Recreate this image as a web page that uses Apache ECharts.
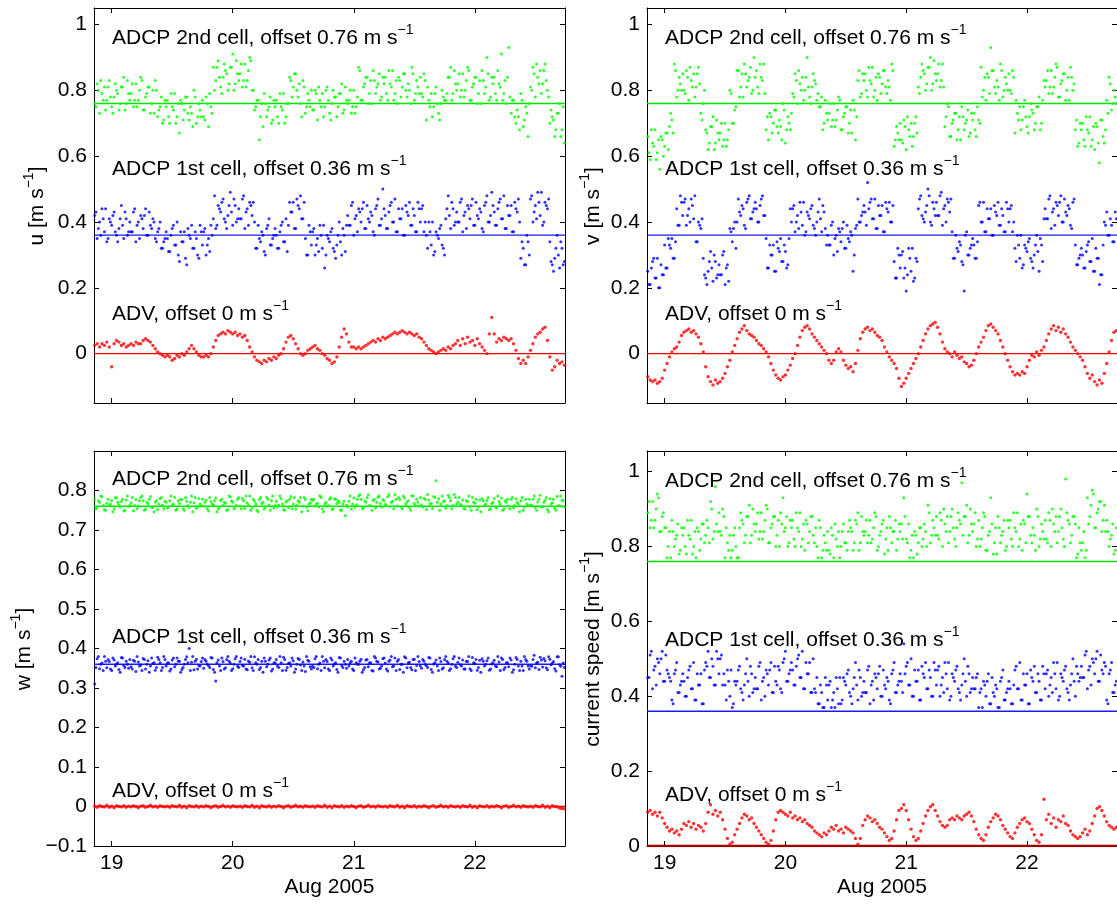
<!DOCTYPE html>
<html><head><meta charset="utf-8">
<script src="https://cdn.jsdelivr.net/npm/echarts@6/dist/echarts.min.js"></script>
<style>html,body{margin:0;padding:0;background:#fff}#c{width:1117px;height:906px}</style>
</head><body><div id="c"></div>
<script>
// sampling grids: day of Aug 2005. Set A starts at T0A, ADCP set B at T0B, one sample every DT days
const T0A = 18.86, T0B = 18.87, DT = 0.02;
const xTicks = [19, 20, 21, 22];
const xName = 'Aug 2005';
const seriesNames = ['ADCP 2nd cell, offset 0.76 m s', 'ADCP 1st cell, offset 0.36 m s', 'ADV, offset 0 m s'];
const offsets = [0.76, 0.36, 0];

// ---- u (east) ----
const u_c2 = [
.76,.82,.73,.79,.81,.77,.83,.75,.78,.80,.74,.81,.84,.76,.79,
.79,.75,.82,.77,.84,.74,.78,.81,.73,.80,.83,.72,.75,.70,.77,
.77,.70,.75,.79,.72,.67,.76,.74,.78,.71,.73,.80,.70,.76,.72,
.72,.78,.69,.75,.87,.83,.89,.81,.84,.86,.80,.87,.91,.82,.85,
.85,.81,.88,.83,.90,.80,.74,.77,.65,.76,.79,.72,.75,.70,.77,
.77,.70,.75,.79,.72,.76,.83,.81,.85,.78,.76,.83,.73,.79,.75,
.74,.80,.71,.77,.79,.75,.81,.73,.76,.78,.72,.79,.82,.74,.77,
.77,.73,.80,.75,.87,.77,.81,.84,.76,.83,.86,.79,.82,.77,.84,
.84,.77,.82,.86,.79,.76,.83,.81,.85,.78,.80,.87,.77,.83,.79,
.79,.85,.71,.77,.79,.75,.81,.73,.76,.78,.77,.84,.87,.79,.82,
.82,.78,.85,.80,.87,.77,.81,.84,.76,.83,.86,.79,.90,.77,.84,
.84,.77,.82,.91,.79,.76,.93,.73,.77,.70,.72,.79,.69,.75,.66,
.81,.87,.78,.84,.86,.82,.88,.80,.70,.72,.66,.73,.76,.68,.64];
const u_c2B = [
.75,.80,.83,.77,.74,.81,.78,.73,.82,.79,.76,.81,.74,.83,.77,
.82,.77,.75,.80,.83,.74,.79,.81,.76,.73,.80,.74,.78,.71,.75,
.72,.79,.74,.70,.76,.77,.71,.78,.73,.75,.69,.78,.72,.74,.77,
.71,.76,.79,.73,.80,.87,.84,.79,.88,.85,.82,.87,.80,.89,.83,
.88,.83,.81,.86,.89,.80,.75,.77,.72,.69,.76,.74,.78,.71,.75,
.72,.79,.74,.70,.76,.84,.78,.85,.80,.82,.72,.81,.75,.77,.80,
.74,.79,.81,.75,.72,.80,.77,.71,.80,.78,.75,.79,.73,.81,.76,
.80,.75,.73,.78,.86,.77,.82,.84,.79,.76,.83,.81,.85,.78,.82,
.79,.86,.81,.77,.83,.84,.78,.85,.80,.82,.76,.85,.79,.81,.84,
.78,.83,.81,.75,.72,.79,.76,.71,.80,.77,.79,.84,.77,.86,.80,
.85,.80,.78,.83,.86,.77,.82,.84,.79,.76,.83,.81,.85,.78,.82,
.79,.86,.81,.77,.83,.84,.78,.77,.72,.74,.68,.77,.71,.73,.76,
.80,.85,.88,.82,.79,.86,.83,.78,.74,.71,.68,.73,.66,.75,.69];
const u_c1 = [
.42,.35,.40,.44,.37,.34,.41,.39,.43,.36,.38,.45,.35,.41,.37,
.37,.43,.34,.40,.42,.38,.44,.36,.39,.41,.35,.37,.40,.32,.35,
.35,.31,.38,.33,.40,.28,.34,.37,.27,.36,.39,.32,.35,.29,.37,
.37,.30,.35,.39,.41,.38,.45,.43,.47,.40,.42,.49,.39,.45,.41,
.41,.47,.38,.44,.46,.42,.40,.32,.35,.37,.31,.38,.41,.33,.36,
.36,.32,.39,.34,.41,.39,.43,.46,.38,.45,.48,.41,.35,.30,.37,
.37,.30,.35,.39,.32,.26,.36,.34,.38,.31,.33,.40,.30,.36,.39,
.39,.45,.36,.42,.44,.40,.46,.38,.41,.43,.37,.44,.47,.39,.50,
.42,.38,.45,.40,.47,.37,.41,.44,.36,.43,.46,.39,.42,.37,.44,
.44,.37,.36,.40,.33,.30,.37,.35,.39,.32,.41,.48,.38,.44,.40,
.40,.46,.37,.43,.45,.41,.47,.39,.42,.44,.38,.45,.48,.40,.49,
.43,.39,.46,.41,.48,.38,.42,.45,.37,.44,.47,.29,.32,.27,.34,
.47,.40,.45,.49,.42,.39,.46,.44,.34,.27,.29,.36,.26,.32,.28];
const u_c1B = [
.43,.38,.36,.41,.44,.35,.40,.42,.37,.34,.41,.39,.43,.36,.40,
.37,.44,.39,.35,.41,.42,.36,.43,.38,.40,.34,.38,.32,.34,.37,
.31,.36,.39,.33,.30,.37,.34,.29,.38,.35,.32,.37,.30,.39,.33,
.38,.33,.31,.36,.48,.39,.44,.46,.41,.38,.45,.43,.47,.40,.44,
.41,.48,.43,.39,.45,.46,.32,.39,.34,.36,.30,.39,.33,.35,.38,
.32,.37,.40,.34,.31,.46,.43,.38,.47,.44,.41,.46,.30,.39,.33,
.38,.33,.31,.36,.39,.30,.35,.37,.32,.29,.36,.34,.38,.31,.42,
.39,.46,.41,.37,.43,.44,.38,.45,.40,.42,.36,.45,.39,.41,.44,
.38,.43,.46,.40,.37,.44,.41,.36,.45,.42,.39,.44,.37,.46,.40,
.45,.40,.32,.37,.40,.31,.36,.38,.33,.30,.44,.42,.46,.39,.43,
.40,.47,.42,.38,.44,.45,.39,.46,.41,.43,.37,.46,.40,.42,.45,
.39,.44,.47,.41,.38,.45,.42,.37,.46,.43,.40,.34,.27,.36,.30,
.48,.43,.41,.46,.49,.40,.45,.47,.28,.25,.32,.30,.34,.27,.31];
const u_adv = [
.025,.03,.02,.03,.025,.035,.02,-.04,.03,.04,.035,.025,.03,.02,.025,
.03,.025,.035,.03,.03,.04,.045,.04,.035,.025,.015,.005,0,-.005,-.01,
-.005,-.01,-.02,-.015,-.005,-.01,0,-.005,.005,.015,.025,.015,.005,-.005,-.01,
-.01,-.005,-.01,0,.02,.04,.055,.06,.065,.06,.07,.065,.06,.065,.055,
.06,.05,.055,.04,.02,.005,-.01,-.02,-.025,-.03,-.02,-.025,-.015,-.02,-.01,
-.015,-.005,0,.015,.035,.05,.055,.045,.03,.015,0,-.005,0,.01,.015,
.02,.025,.015,.01,0,-.005,-.015,-.02,-.03,-.025,-.01,.02,.05,.075,.06,
.035,.02,.02,.015,.02,.015,.02,.025,.03,.035,.04,.035,.045,.04,.05,
.045,.05,.055,.06,.065,.06,.065,.07,.065,.06,.065,.06,.055,.06,.05,
.045,.035,.025,.015,.01,.005,0,.005,.01,.015,.01,.02,.015,.025,.03,
.04,.025,.045,.03,.05,.035,.04,.025,.045,.03,.02,.01,0,.06,.11,
.06,.035,.045,.04,.05,.045,.04,.045,.03,.01,-.015,-.03,-.02,-.03,-.01,
.01,.03,.05,.06,.065,.075,.08,.04,-.01,-.05,-.04,-.02,-.03,-.025,-.035];

// ---- v (north) ----
const v_c2 = [
.66,.59,.64,.68,.61,.56,.65,.63,.67,.69,.71,.88,.78,.84,.80,
.80,.86,.77,.83,.85,.81,.87,.73,.76,.68,.62,.69,.72,.64,.67,
.67,.63,.70,.65,.80,.70,.74,.86,.78,.85,.88,.81,.84,.79,.90,
.86,.79,.84,.88,.68,.65,.72,.70,.74,.67,.69,.76,.64,.72,.68,
.79,.85,.76,.82,.84,.80,.90,.78,.81,.83,.77,.75,.78,.70,.73,
.73,.69,.76,.71,.78,.68,.72,.75,.67,.74,.77,.65,.83,.78,.85,
.85,.78,.83,.87,.80,.77,.84,.82,.86,.79,.81,.88,.63,.69,.65,
.65,.71,.62,.68,.70,.66,.72,.81,.84,.86,.80,.87,.90,.82,.85,
.85,.81,.88,.69,.76,.66,.70,.73,.65,.72,.75,.68,.71,.66,.73,
.73,.66,.71,.87,.80,.77,.84,.93,.86,.79,.81,.88,.78,.84,.80,
.80,.86,.67,.73,.75,.71,.77,.69,.72,.74,.68,.75,.78,.70,.83,
.83,.79,.86,.81,.88,.78,.82,.85,.77,.84,.87,.80,.68,.63,.70,
.70,.63,.68,.72,.65,.62,.69,.58,.71,.64,.77,.84,.74,.80,.76];
const v_c2B = [
.61,.68,.63,.59,.65,.66,.60,.67,.62,.73,.67,.86,.80,.82,.85,
.79,.84,.87,.81,.78,.85,.82,.71,.80,.67,.64,.69,.62,.71,.65,
.70,.65,.63,.68,.79,.70,.75,.86,.81,.78,.85,.83,.87,.80,.84,
.81,.88,.83,.79,.72,.73,.67,.74,.69,.71,.65,.74,.68,.70,.73,
.78,.83,.86,.80,.77,.84,.81,.76,.85,.82,.79,.75,.68,.77,.71,
.76,.71,.69,.74,.77,.68,.73,.75,.70,.67,.74,.72,.86,.79,.83,
.80,.87,.82,.78,.84,.85,.79,.86,.81,.83,.77,.86,.65,.67,.70,
.64,.69,.72,.66,.63,.70,.67,.79,.88,.85,.82,.87,.80,.89,.83,
.88,.83,.81,.72,.75,.66,.71,.73,.68,.65,.72,.70,.74,.67,.71,
.68,.75,.70,.78,.84,.85,.79,.86,.81,.83,.77,.86,.80,.82,.85,
.79,.84,.77,.71,.68,.75,.72,.67,.76,.73,.70,.75,.68,.77,.81,
.86,.81,.79,.84,.87,.78,.83,.85,.80,.77,.84,.82,.71,.64,.68,
.65,.72,.67,.63,.69,.70,.64,.71,.66,.68,.73,.82,.76,.78,.81];
const v_c1 = [
.25,.21,.28,.23,.29,.20,.24,.33,.26,.33,.35,.29,.44,.39,.46,
.46,.39,.44,.47,.41,.34,.40,.38,.29,.23,.25,.31,.22,.28,.24,
.24,.30,.21,.27,.38,.34,.40,.40,.43,.45,.39,.46,.48,.41,.44,
.44,.40,.47,.42,.35,.26,.30,.33,.25,.32,.35,.28,.31,.27,.44,
.44,.37,.42,.46,.39,.36,.43,.41,.45,.38,.40,.47,.37,.43,.33,
.33,.39,.30,.36,.38,.34,.40,.32,.35,.37,.25,.38,.47,.40,.43,
.43,.52,.46,.41,.47,.38,.42,.45,.37,.44,.46,.40,.28,.23,.30,
.30,.23,.19,.32,.25,.22,.29,.44,.48,.41,.43,.50,.40,.46,.42,
.42,.48,.39,.45,.47,.43,.37,.29,.32,.34,.28,.19,.37,.30,.33,
.33,.29,.45,.40,.46,.37,.41,.44,.36,.43,.46,.39,.42,.37,.44,
.44,.37,.32,.36,.29,.26,.33,.31,.35,.28,.30,.36,.25,.33,.41,
.41,.47,.38,.44,.46,.42,.48,.40,.43,.45,.39,.46,.33,.27,.30,
.30,.26,.33,.28,.35,.25,.29,.21,.24,.40,.43,.36,.39,.34,.41];
const v_c1B = [
.21,.26,.29,.23,.20,.27,.24,.26,.35,.32,.29,.34,.39,.48,.42,
.47,.42,.40,.45,.48,.34,.39,.41,.24,.21,.28,.26,.30,.23,.27,
.24,.31,.26,.22,.37,.38,.32,.47,.42,.44,.38,.47,.41,.43,.46,
.40,.45,.48,.42,.26,.33,.30,.25,.34,.31,.28,.33,.26,.35,.40,
.45,.40,.38,.43,.46,.37,.42,.44,.39,.36,.43,.41,.45,.38,.36,
.33,.40,.35,.31,.37,.38,.32,.39,.34,.36,.30,.39,.40,.42,.45,
.39,.44,.47,.41,.38,.45,.42,.37,.46,.43,.40,.45,.23,.32,.26,
.31,.26,.24,.29,.32,.23,.28,.47,.42,.40,.45,.48,.39,.44,.46,
.42,.49,.44,.40,.46,.47,.29,.36,.31,.33,.27,.36,.30,.32,.35,
.29,.34,.46,.40,.37,.44,.41,.36,.45,.42,.39,.44,.37,.46,.40,
.45,.40,.28,.33,.36,.27,.32,.34,.29,.26,.33,.31,.35,.28,.44,
.41,.48,.43,.39,.45,.46,.40,.47,.42,.44,.38,.47,.27,.29,.32,
.26,.31,.34,.28,.25,.32,.29,.24,.33,.39,.36,.41,.34,.43,.37];
const v_adv = [
-.07,-.08,-.085,-.08,-.09,-.085,-.075,-.05,-.03,-.01,.005,.015,.02,.035,.055,
.065,.07,.075,.065,.07,.06,.05,.03,.005,-.04,-.07,-.085,-.095,-.08,-.09,
-.085,-.075,-.06,-.04,-.02,.005,.025,.045,.065,.075,.085,.07,.06,.055,.05,
.04,.03,.025,.015,.005,-.01,-.03,-.05,-.065,-.075,-.08,-.07,-.065,-.05,-.035,
-.015,0,.025,.05,.07,.08,.085,.075,.06,.05,.04,.03,.02,.01,0,
-.02,-.03,-.02,.005,.015,.005,-.02,-.035,-.045,-.04,-.055,-.03,.01,.045,.065,
.075,.08,.07,.075,.065,.055,.05,.04,.02,.005,-.01,-.02,-.03,-.045,-.075,
-.1,-.09,-.075,-.06,-.045,-.03,-.015,0,.02,.04,.06,.075,.085,.09,.095,
.08,.06,.035,.015,.005,0,-.01,.005,-.005,-.015,-.01,-.025,-.03,-.04,-.035,
-.02,0,.02,.035,.05,.07,.085,.09,.08,.07,.06,.04,.02,0,-.02,
-.04,-.055,-.065,-.06,-.065,-.055,-.06,-.04,-.02,-.005,-.01,.005,-.005,.01,.02,
.04,.06,.075,.085,.07,.08,.065,.075,.06,.05,.035,.02,.01,0,-.01,
-.02,-.04,-.06,-.075,-.065,-.085,-.095,-.08,-.09,-.06,-.03,.005,.04,.065,.07];

// ---- w (vertical) ----
const w_c2 = [
.778,.758,.770,.784,.751,.768,.762,.775,.754,.781,.764,.772,.748,.776,.760,
.769,.749,.777,.760,.782,.774,.753,.766,.785,.757,.771,.752,.779,.763,.773,
.756,.774,.763,.783,.753,.767,.777,.750,.773,.757,.786,.769,.755,.780,.761,
.760,.776,.748,.772,.764,.781,.754,.775,.762,.768,.751,.784,.770,.758,.778,
.761,.780,.755,.769,.786,.757,.773,.750,.777,.767,.753,.783,.763,.774,.756,
.773,.763,.779,.752,.771,.757,.785,.766,.753,.774,.782,.760,.777,.749,.769,
.775,.761,.768,.787,.753,.766,.760,.778,.752,.779,.767,.770,.750,.773,.763,
.773,.753,.781,.764,.786,.778,.757,.770,.789,.761,.775,.756,.783,.767,.777,
.765,.784,.759,.773,.790,.761,.777,.754,.781,.771,.757,.787,.767,.778,.760,
.764,.780,.752,.776,.768,.785,.825,.779,.766,.772,.755,.788,.774,.762,.782,
.771,.765,.776,.754,.773,.759,.783,.768,.751,.776,.780,.762,.775,.751,.767,
.780,.756,.772,.781,.753,.770,.760,.777,.756,.779,.766,.774,.750,.778,.762,
.763,.778,.757,.771,.788,.759,.775,.752,.779,.769,.755,.785,.761,.776,.758];
const w_c2B = [
.754,.774,.786,.762,.750,.778,.766,.746,.782,.770,.758,.778,.750,.786,.762,
.782,.762,.754,.774,.786,.750,.770,.778,.758,.746,.774,.766,.782,.754,.770,
.758,.786,.766,.750,.774,.778,.754,.782,.762,.770,.746,.782,.758,.766,.778,
.770,.754,.782,.766,.774,.746,.758,.778,.770,.750,.786,.774,.754,.762,.782,
.754,.774,.786,.762,.750,.778,.766,.746,.782,.770,.758,.778,.750,.786,.762,
.758,.786,.766,.750,.774,.778,.754,.782,.762,.770,.746,.782,.758,.766,.778,
.778,.766,.758,.782,.746,.770,.762,.782,.754,.778,.774,.750,.766,.737,.758,
.786,.766,.758,.778,.790,.754,.774,.782,.762,.750,.778,.770,.786,.758,.774,
.762,.790,.770,.754,.778,.782,.758,.786,.766,.774,.750,.786,.762,.770,.782,
.758,.778,.790,.766,.754,.782,.770,.750,.786,.774,.762,.782,.754,.790,.766,
.782,.762,.754,.774,.786,.750,.770,.778,.758,.746,.774,.766,.782,.754,.770,
.758,.786,.766,.750,.774,.778,.754,.782,.762,.770,.746,.782,.758,.766,.778,
.762,.786,.750,.778,.758,.770,.782,.746,.766,.778,.750,.762,.786,.774,.754];
const w_c1 = [
.31,.374,.349,.363,.380,.351,.367,.344,.371,.361,.347,.377,.357,.368,.350,
.354,.370,.342,.366,.358,.375,.348,.369,.356,.362,.345,.378,.364,.352,.372,
.363,.343,.371,.354,.376,.368,.347,.360,.379,.40,.365,.346,.373,.357,.367,
.350,.368,.357,.377,.347,.318,.371,.344,.367,.351,.380,.363,.349,.374,.355,
.367,.357,.373,.346,.365,.351,.379,.360,.347,.368,.376,.354,.371,.343,.363,
.372,.352,.364,.378,.345,.362,.356,.369,.348,.375,.358,.366,.342,.370,.354,
.355,.374,.349,.363,.380,.351,.367,.344,.371,.361,.347,.377,.357,.368,.350,
.356,.368,.344,.364,.360,.373,.346,.371,.354,.364,.343,.376,.366,.350,.374,
.363,.343,.371,.354,.376,.368,.347,.360,.379,.351,.365,.346,.373,.357,.367,
.350,.368,.357,.377,.347,.361,.371,.344,.367,.351,.380,.363,.349,.374,.355,
.365,.359,.371,.348,.367,.349,.377,.362,.345,.370,.374,.356,.369,.345,.361,
.370,.354,.366,.376,.347,.364,.354,.371,.346,.377,.356,.368,.344,.372,.356,
.357,.372,.351,.365,.378,.353,.369,.346,.373,.363,.349,.379,.359,.33,.352];
const w_c1B = [
.352,.380,.360,.344,.368,.372,.348,.376,.356,.364,.340,.376,.352,.360,.372,
.348,.368,.380,.356,.344,.372,.360,.340,.376,.364,.352,.372,.344,.380,.356,
.364,.348,.376,.360,.368,.340,.352,.372,.364,.344,.380,.368,.348,.356,.376,
.372,.360,.352,.376,.340,.364,.356,.376,.348,.372,.368,.344,.360,.380,.352,
.376,.356,.348,.368,.380,.344,.364,.372,.352,.340,.368,.360,.376,.348,.364,
.356,.380,.344,.372,.352,.364,.376,.340,.360,.372,.344,.356,.380,.368,.348,
.352,.380,.360,.344,.368,.372,.348,.376,.356,.364,.340,.376,.352,.360,.372,
.364,.348,.376,.360,.368,.340,.352,.372,.364,.344,.380,.368,.348,.356,.376,
.348,.368,.380,.356,.344,.372,.360,.340,.376,.364,.352,.372,.344,.380,.356,
.372,.360,.352,.376,.340,.364,.356,.376,.348,.372,.368,.344,.360,.380,.352,
.376,.356,.348,.368,.380,.344,.364,.372,.352,.340,.368,.360,.376,.348,.364,
.356,.380,.344,.372,.352,.364,.376,.340,.360,.372,.344,.356,.380,.368,.348,
.355,.383,.363,.347,.371,.375,.351,.379,.359,.367,.343,.379,.355,.363,.375];
const w_adv = [
.001,-.002,.002,0,-.001,.003,-.002,.001,-.003,.002,0,-.001,.002,-.002,.001,
-.001,.002,0,-.003,.001,.002,-.002,0,.003,-.001,.001,-.002,.002,0,-.001,
.001,-.002,.002,0,-.001,.003,-.002,.001,-.003,.002,0,-.001,.002,-.002,.001,
-.001,.002,0,-.003,.001,.002,-.002,0,.003,-.001,.001,-.002,.002,0,-.001,
.001,-.002,.002,0,-.001,.003,-.002,.001,-.003,.002,0,-.001,.002,-.002,.001,
-.001,.002,0,-.003,.001,.002,-.002,0,.003,-.001,.001,-.002,.002,0,-.001,
.001,-.002,.002,0,-.001,.003,-.002,.001,-.003,.002,0,-.001,.002,-.002,.001,
-.001,.002,0,-.003,.001,.002,-.002,0,.003,-.001,.001,-.002,.002,0,-.001,
.001,-.002,.002,0,-.001,.003,-.002,.001,-.003,.002,0,-.001,.002,-.002,.001,
-.001,.002,0,-.003,.001,.002,-.002,0,.003,-.001,.001,-.002,.002,0,-.001,
.001,-.002,.002,0,-.001,.003,-.002,.001,-.003,.002,0,-.001,.002,-.002,.001,
-.001,.002,0,-.003,.001,.002,-.002,0,.003,-.001,.001,-.002,.002,0,-.001,
.001,-.002,.002,0,-.001,.003,-.002,.001,-.003,.002,0,-.001,-.004,-.005,-.006];

// ---- current speed ----
const s_c2 = [
.89,.85,.92,.87,.94,.84,.88,.85,.77,.84,.87,.80,.83,.78,.85,
.85,.78,.83,.87,.80,.77,.84,.82,.86,.83,.85,.92,.82,.96,.84,
.84,.90,.77,.81,.83,.79,.85,.77,.85,.87,.81,.88,.91,.83,.86,
.86,.82,.89,.84,.91,.81,.85,.88,.80,.87,.89,.93,.85,.80,.87,
.87,.80,.85,.89,.82,.79,.86,.84,.88,.81,.80,.87,.77,.83,.79,
.79,.85,.77,.82,.84,.80,.86,.81,.84,.85,.79,.87,.89,.81,.84,
.84,.81,.87,.82,.89,.79,.83,.86,.78,.85,.88,.81,.84,.79,.86,
.86,.93,.82,.86,.79,.77,.83,.81,.85,.82,.84,.91,.81,.87,.83,
.83,.89,.80,.86,.88,.84,.90,.82,.85,.87,.97,.88,.91,.83,.86,
.86,.80,.87,.82,.89,.79,.83,.93,.78,.85,.88,.81,.84,.79,.87,
.87,.80,.85,.89,.82,.79,.86,.94,.88,.81,.83,.90,.80,.86,.82,
.82,.89,.80,.86,.88,.84,.90,.82,.98,.87,.81,.88,.86,.78,.81,
.81,.77,.93,.88,.95,.85,.89,.92,.84,.91,.87,.80,.83,.78,.85];
const s_c2B = [
.92,.87,.85,.90,.93,.84,.89,.85,.80,.77,.84,.82,.86,.79,.83,
.80,.87,.82,.78,.84,.85,.79,.86,.81,.87,.81,.90,.84,.86,.89,
.83,.88,.85,.79,.77,.83,.80,.77,.89,.86,.83,.88,.81,.90,.84,
.89,.84,.82,.87,.90,.81,.86,.88,.83,.80,.86,.84,.88,.81,.85,
.82,.89,.84,.80,.86,.87,.81,.88,.83,.85,.77,.85,.79,.81,.84,
.78,.83,.86,.80,.77,.84,.81,.79,.87,.84,.81,.86,.79,.88,.83,
.87,.83,.81,.85,.88,.80,.84,.87,.82,.79,.85,.84,.87,.82,.84,
.82,.88,.81,.77,.83,.84,.78,.85,.80,.86,.80,.89,.83,.85,.88,
.82,.87,.90,.84,.81,.88,.85,.80,.89,.86,.83,.88,.81,.90,.84,
.89,.82,.80,.85,.88,.79,.84,.86,.81,.78,.85,.83,.87,.80,.85,
.82,.89,.84,.80,.86,.87,.81,.88,.83,.85,.79,.88,.82,.84,.87,
.81,.87,.90,.84,.81,.88,.85,.80,.89,.86,.83,.88,.77,.85,.79,
.84,.79,.86,.91,.94,.85,.90,.92,.87,.84,.84,.82,.86,.79,.83];
const s_c1 = [
.45,.51,.42,.48,.50,.46,.52,.44,.47,.45,.39,.46,.49,.41,.44,
.44,.40,.47,.42,.49,.39,.43,.46,.38,.49,.52,.45,.48,.43,.50,
.50,.43,.43,.47,.40,.37,.44,.44,.48,.41,.43,.50,.40,.46,.42,
.42,.48,.39,.45,.47,.43,.49,.41,.44,.48,.42,.49,.52,.44,.47,
.47,.43,.50,.45,.52,.42,.46,.49,.41,.42,.45,.38,.41,.37,.43,
.43,.37,.41,.45,.38,.38,.45,.43,.47,.40,.42,.49,.39,.45,.41,
.41,.47,.38,.44,.46,.42,.48,.40,.43,.45,.39,.46,.49,.41,.44,
.44,.54,.48,.43,.50,.40,.44,.47,.39,.46,.49,.42,.45,.40,.47,
.47,.40,.45,.49,.42,.39,.46,.44,.48,.41,.43,.50,.40,.46,.42,
.42,.45,.37,.42,.44,.40,.46,.38,.41,.43,.37,.44,.47,.39,.42,
.42,.38,.47,.42,.49,.39,.43,.46,.38,.45,.48,.41,.44,.39,.46,
.46,.40,.45,.49,.42,.39,.46,.44,.48,.41,.43,.50,.40,.46,.45,
.45,.51,.42,.48,.50,.46,.52,.44,.47,.49,.39,.46,.49,.41,.44];
const s_c1B = [
.45,.52,.47,.43,.49,.50,.44,.51,.46,.44,.38,.47,.41,.43,.46,
.40,.45,.48,.42,.39,.46,.43,.38,.47,.48,.45,.50,.43,.52,.46,
.51,.46,.39,.44,.47,.38,.43,.47,.42,.39,.46,.44,.48,.41,.45,
.42,.49,.44,.40,.46,.47,.41,.48,.43,.47,.41,.50,.44,.46,.49,
.43,.48,.51,.45,.42,.49,.46,.41,.50,.41,.38,.43,.37,.45,.39,
.44,.39,.37,.42,.45,.39,.44,.46,.41,.38,.45,.43,.47,.40,.44,
.41,.48,.43,.39,.45,.46,.40,.47,.42,.44,.38,.47,.41,.43,.46,
.41,.46,.49,.43,.40,.47,.44,.39,.48,.45,.42,.47,.40,.49,.43,
.48,.43,.41,.46,.49,.40,.45,.47,.42,.39,.46,.44,.48,.41,.45,
.42,.46,.41,.37,.43,.44,.38,.45,.40,.42,.37,.45,.39,.41,.44,
.38,.43,.48,.42,.39,.46,.43,.38,.47,.44,.41,.46,.39,.48,.42,
.47,.43,.41,.46,.49,.40,.45,.47,.42,.39,.46,.44,.48,.44,.48,
.45,.52,.47,.43,.49,.50,.44,.51,.46,.48,.38,.47,.41,.43,.46];
const s_adv = [
.09,.095,.085,.09,.08,.09,.075,.06,.05,.04,.045,.035,.04,.03,.045,
.06,.055,.065,.05,.06,.045,.055,.05,.04,.06,.09,.11,.085,.095,.08,
.09,.07,.045,.02,.005,.01,.03,.045,.06,.075,.085,.08,.07,.075,.06,
.05,.04,.03,.02,.01,.005,.015,.04,.07,.09,.095,.09,.085,.08,.09,
.075,.08,.07,.075,.065,.07,.06,.055,.05,.04,.035,.03,.025,.035,.03,
.04,.05,.045,.055,.04,.045,.035,.05,.045,.04,.035,.02,.005,.02,.055,
.07,.08,.075,.065,.07,.06,.05,.045,.035,.025,.015,.02,.04,.07,.095,
.1,.11,.095,.07,.045,.025,.015,.02,.04,.06,.08,.095,.105,.11,.095,
.08,.065,.055,.05,.055,.07,.075,.07,.08,.075,.07,.08,.085,.09,.08,
.065,.045,.03,.02,.015,.03,.05,.065,.075,.085,.08,.07,.055,.045,.035,
.025,.02,.035,.05,.06,.07,.075,.065,.06,.045,.03,.015,.01,.03,.125,
.07,.085,.06,.075,.05,.07,.065,.08,.06,.055,.04,.03,.025,.02,.025,
.035,.045,.03,.04,.06,.08,.1,.105,.095,.08,.065,.055,.05,.045,.05];

const FONT = '"Liberation Sans", Arial, Helvetica, sans-serif';
const XMIN = 18.854, XMAX = 22.745;
const DOT = ['#00ff00', '#0000ff', '#ff0000'];
const LINE = ['#00e600', '#1a1aff', '#ff0000'];

const panels = [
  {grid:{left:94, top:8, width:471, height:395}, ymin:-0.15, ymax:1.05, yt:[0,0.2,0.4,0.6,0.8,1],
   yname:'u', nameX:37, data:[[u_c2,u_c2B],[u_c1,u_c1B],[u_adv]], ty:[0.96,0.56,0.12], showX:false},
  {grid:{left:647, top:8, width:471, height:395}, ymin:-0.15, ymax:1.05, yt:[0,0.2,0.4,0.6,0.8,1],
   yname:'v', nameX:593, data:[[v_c2,v_c2B],[v_c1,v_c1B],[v_adv]], ty:[0.96,0.56,0.12], showX:false},
  {grid:{left:94, top:451, width:471, height:395}, ymin:-0.1, ymax:0.9, yt:[-0.1,0,0.1,0.2,0.3,0.4,0.5,0.6,0.7,0.8],
   yname:'w', nameX:24, data:[[w_c2,w_c2B],[w_c1,w_c1B],[w_adv]], ty:[0.828,0.429,0.039], showX:true},
  {grid:{left:647, top:451, width:471, height:395}, ymin:0, ymax:1.055, yt:[0,0.2,0.4,0.6,0.8,1],
   yname:'current speed', nameX:593, data:[[s_c2,s_c2B],[s_c1,s_c1B],[s_adv]], ty:[0.974,0.551,0.137], showX:true, darkZero:true}
];

const richStyle = {
  n: {fontSize:21, fontFamily:FONT, fill:'#000', color:'#000', lineHeight:30},
  s: {fontSize:14, fontFamily:FONT, fill:'#000', color:'#000', lineHeight:14, verticalAlign:'top'}
};
const fmtY = v => (v < 0 ? '\u2212' + String(-v) : String(v));

const grids = [], xAxes = [], yAxes = [], series = [];
panels.forEach((p, g) => {
  grids.push(p.grid);
  const tickStyle = {inside:true, length:5, lineStyle:{color:'#000', width:1}};
  const lineStyle = {onZero:false, lineStyle:{color:'#000', width:1}};
  ['bottom','top'].forEach((pos, k) => {
    xAxes.push({
      gridIndex:g, type:'value', min:XMIN, max:XMAX, position:pos,
      axisLine:lineStyle, splitLine:{show:false},
      axisTick:Object.assign({customValues:xTicks}, tickStyle),
      axisLabel:{show:(k===0 && p.showX), customValues:xTicks, margin:7, fontSize:21, fontFamily:FONT, color:'#000'},
      name:(k===0 && p.showX) ? xName : '', nameLocation:'middle', nameGap:31,
      nameTextStyle:{fontSize:21, fontFamily:FONT, color:'#000'}
    });
  });
  ['left','right'].forEach((pos, k) => {
    yAxes.push({
      gridIndex:g, type:'value', min:p.ymin, max:p.ymax, position:pos,
      axisLine:lineStyle, splitLine:{show:false},
      axisTick:Object.assign({customValues:p.yt}, tickStyle),
      axisLabel:{show:k===0, customValues:p.yt, formatter:fmtY, margin:7, fontSize:21, fontFamily:FONT, color:'#000'}
    });
  });
  const xi = g * 2, yi = g * 2;
  p.data.forEach((sets, j) => {
    series.push({
      type:'line', xAxisIndex:xi, yAxisIndex:yi, silent:true, symbol:'none', z:3,
      data:[[XMIN, offsets[j]], [XMAX, offsets[j]]],
      lineStyle:(p.darkZero && j===2) ? {color:'#a00000', width:2.5} : {color:LINE[j], width:1.4}
    });
    sets.forEach((arr, k) => {
      const t0 = k === 0 ? T0A : T0B;
      series.push({
        type:'scatter', xAxisIndex:xi, yAxisIndex:yi, silent:true, z:4,
        symbol:'circle', symbolSize: j === 2 ? 3.4 : 3,
        itemStyle:{color:DOT[j], borderWidth:0},
        data:arr.map((v, i) => [t0 + i * DT, v])
      });
    });
  });
});

const chart = echarts.init(document.getElementById('c'), null, {renderer:'canvas'});
chart.setOption({
  animation:false, backgroundColor:'#fff',
  grid:grids, xAxis:xAxes, yAxis:yAxes, series:series
});

// in-plot captions (anchored at day 19 and a data height via the chart's axes) and y-axis titles
const gfx = [];
panels.forEach((p, g) => {
  p.ty.forEach((yv, j) => {
    const pt = chart.convertToPixel({xAxisIndex:g * 2, yAxisIndex:g * 2}, [19, yv]);
    gfx.push({
      type:'text', x:Math.round(pt[0]), y:Math.round(pt[1]), z:100, silent:true,
      style:{text:'{n|' + seriesNames[j] + '}{s|\u22121}', rich:richStyle,
             fill:'#000', align:'left', verticalAlign:'middle', font:'21px ' + FONT}
    });
  });
  gfx.push({
    type:'text', x:p.nameX, y:Math.round(p.grid.top + p.grid.height / 2), rotation:Math.PI / 2, z:100, silent:true,
    style:{text:'{n|' + p.yname + ' [m s}{s|\u22121}{n|]}', rich:richStyle,
           fill:'#000', align:'center', verticalAlign:'middle', font:'21px ' + FONT}
  });
});
chart.setOption({graphic:gfx});
</script>
</body></html>
